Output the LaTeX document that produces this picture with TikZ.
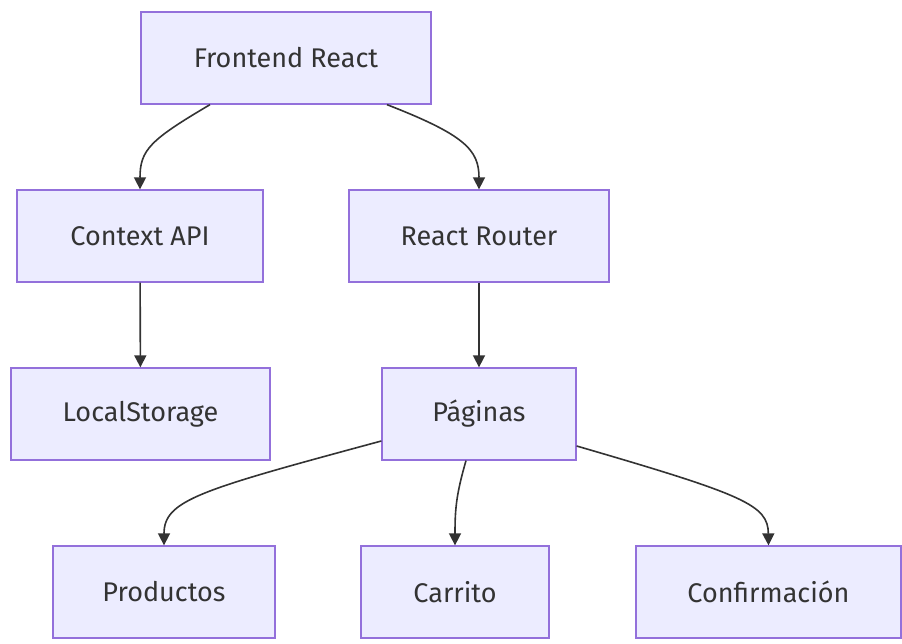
\documentclass[tikz,border=0pt]{standalone}
\usepackage{fontspec}
\setmainfont{Fira Sans}
\usetikzlibrary{arrows.meta}
\definecolor{boxfill}{HTML}{ECECFF}
\definecolor{boxline}{HTML}{9370DB}
\definecolor{edge}{HTML}{333333}
\tikzset{
  box/.style={draw=boxline, fill=boxfill, line width=1.3pt, inner sep=0pt, font=\fontsize{27}{30}\selectfont, text=edge},
  conn/.style={draw=edge, line width=1.6pt, -{Triangle[length=12pt,width=12pt]}}
}
\begin{document}
\begin{tikzpicture}[x=1pt,y=-1pt]
\useasboundingbox (0,0) rectangle (902,644);
\node[box, minimum width=290pt, minimum height=92pt] (fr) at (286,58) {Frontend React};
\node[box, minimum width=246pt, minimum height=92pt] (ctx) at (140,236) {Context API};
\node[box, minimum width=260pt, minimum height=92pt] (rr) at (479,236) {React Router};
\node[box, minimum width=259pt, minimum height=92pt] (ls) at (140.5,414) {LocalStorage};
\node[box, minimum width=194pt, minimum height=92pt] (pag) at (479,414) {Páginas};
\node[box, minimum width=222pt, minimum height=92pt] (prod) at (164,592) {Productos};
\node[box, minimum width=188pt, minimum height=92pt] (car) at (455,592) {Carrito};
\node[box, minimum width=265pt, minimum height=92pt] (conf) at (768.5,592) {Confirmación};

\draw[conn] ([xshift=-76pt]fr.south) .. controls (150,140) and (140,150) .. (ctx.north);
\draw[conn] ([xshift=101pt]fr.south) .. controls (465,135) and (479,150) .. (rr.north);
\draw[conn] (ctx) -- (ls);
\draw[conn] (rr) -- (pag);
\draw[conn] ([yshift=-27pt]pag.west) .. controls (200,490) and (164,500) .. (prod.north);
\draw[conn] ([xshift=-13pt]pag.south) .. controls (456,495) and (455,510) .. (car.north);
\draw[conn] ([yshift=-32pt]pag.east) .. controls (745,495) and (768,505) .. (conf.north);
\end{tikzpicture}
\end{document}
